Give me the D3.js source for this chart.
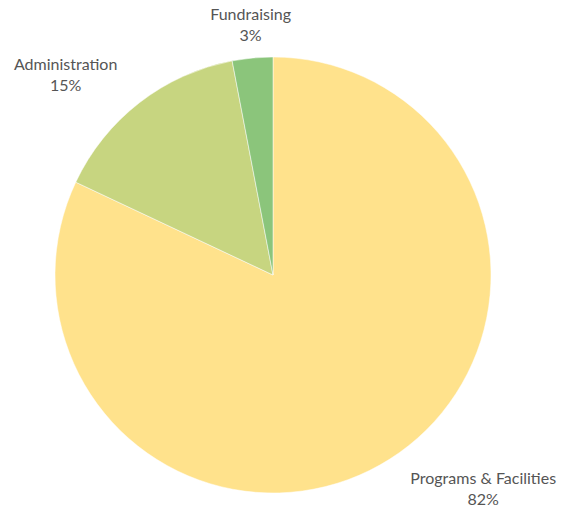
<!DOCTYPE html>
<html>
<head>
<meta charset="utf-8">
<script src="https://cdn.jsdelivr.net/npm/d3@7"></script>
<style>
  html, body { margin: 0; padding: 0; background: #fff; }
  svg { display: block; }
  text { font-family: Lato, "Open Sans", sans-serif; font-size: 16px; fill: #555; }
</style>
</head>
<body>
<svg id="chart" width="573" height="510"></svg>
<script>
const categories = ["Programs & Facilities", "Administration", "Fundraising"];
const values = [82, 15, 3];
const colors = ["#FFE28C", "#C7D580", "#8BC57B"];
// label placement tweaks (radial distance beyond radius, extra dx, dy)
const labelOffsets = [[38, 73, -5], [42, -48, 3], [20, 0, -16]];

const width = 573, height = 510;
const cx = 273, cy = 275, r = 218;

const svg = d3.select("#chart");
const g = svg.append("g").attr("transform", `translate(${cx},${cy})`);

const data = categories.map((c, i) => ({ name: c, value: values[i], color: colors[i], off: labelOffsets[i] }));
const pie = d3.pie().value(d => d.value).sort(null);
const arcs = pie(data);
const arc = d3.arc().innerRadius(0).outerRadius(r);

g.selectAll("path.slice").data(arcs).enter().append("path")
  .attr("class", "slice")
  .attr("d", arc)
  .attr("fill", d => d.data.color)
  .attr("stroke", "#fff")
  .attr("stroke-width", 0.5);

const total = d3.sum(values);
const labels = g.selectAll("text.lbl").data(arcs).enter().append("text")
  .attr("class", "lbl")
  .attr("text-anchor", "middle")
  .attr("transform", d => {
    const a = (d.startAngle + d.endAngle) / 2;
    const rr = r + d.data.off[0];
    const x = Math.sin(a) * rr + d.data.off[1];
    const y = -Math.cos(a) * rr + d.data.off[2];
    return `translate(${x},${y})`;
  });
labels.append("tspan").attr("x", 0).attr("dy", "-0.15em").text(d => d.data.name);
labels.append("tspan").attr("x", 0).attr("dy", "1.33em").text(d => Math.round(d.data.value / total * 100) + "%");
</script>
</body>
</html>
